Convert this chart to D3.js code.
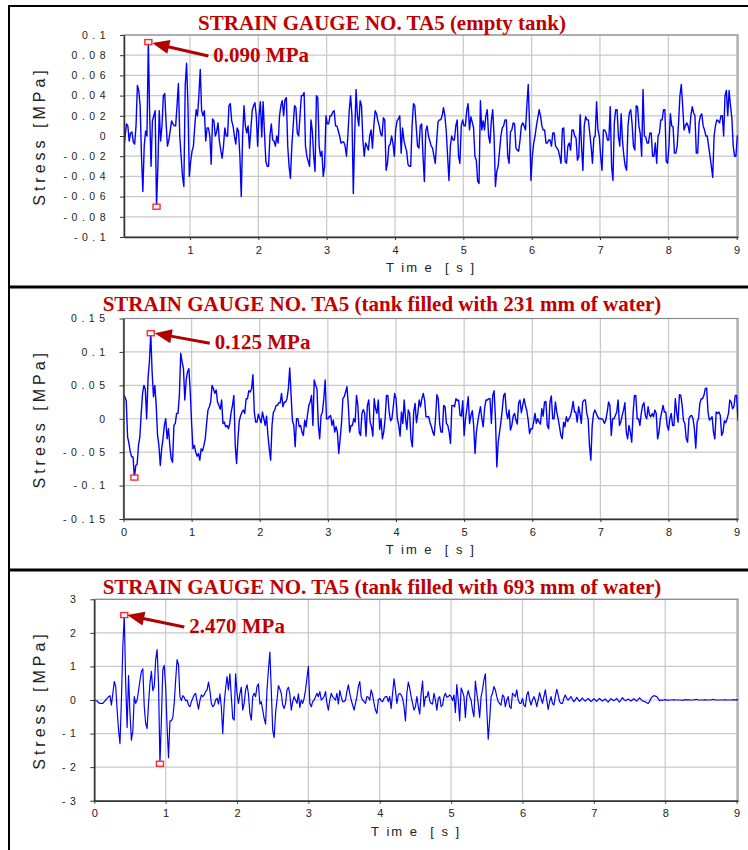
<!DOCTYPE html>
<html>
<head>
<meta charset="utf-8">
<script src="https://cdn.jsdelivr.net/npm/d3@7"></script>
<style>
body { margin: 0; background: #fff; }
svg { display: block; }
</style>
</head>
<body>
<svg id="chart" width="748" height="850"></svg>
<script>
// ---- data ----
var titles = [
  "STRAIN GAUGE NO. TA5 (empty tank)",
  "STRAIN GAUGE NO. TA5 (tank filled with 231 mm of water)",
  "STRAIN GAUGE NO. TA5 (tank filled with 693 mm of water)"
];
var peakLabels = ["0.090 MPa", "0.125 MPa", "2.470 MPa"];

// sampling step [s] and start time of each record
var dt = 0.02;
var start1 = 0.03, start2 = 0, start3 = 0;

// stress [MPa], empty tank
var stress1 = [
  -0.015, 0, 0.012, 0.01, -0.005, 0.003, 0.004, -0.006, -0.008, 0.01,
  0.05, 0.045, 0.03, -0.02, -0.055, -0.01, 0.005, 0, 0.093, 0.02,
  -0.03, 0.015, 0.02, 0.025, -0.07, -0.03, 0.025, -0.005, 0.01, 0.04,
  0.042, 0.013, -0.01, -0.004, 0.005, 0.015, 0.012, 0.01, 0.01, 0.03,
  0.052, 0, -0.02, -0.04, -0.05, 0.05, 0.072, 0.03, -0.04, -0.025,
  -0.015, -0.01, 0.01, 0.026, 0.02, 0.04, 0.066, 0.025, 0.02, 0.025,
  -0.005, 0.008, 0.008, 0, -0.028, 0.017, 0.015, 0, 0.004, 0.013,
  -0.005, -0.014, -0.022, -0.01, 0.008, 0, 0, 0.03, 0.032, 0.015,
  0.01, 0, -0.008, 0.008, 0.005, -0.02, -0.06, 0, 0.03, 0.01,
  0.003, 0.01, -0.012, 0.006, 0.025, 0.03, 0.033, 0.02, -0.01, 0.02,
  0.034, -0.001, 0.034, 0.003, -0.025, -0.03, -0.03, 0, 0.012, -0.004,
  -0.005, -0.01, 0, -0.007, 0.02, 0.03, 0.035, 0.02, 0.036, 0.038,
  -0.01, -0.03, -0.042, -0.01, 0.01, 0.03, 0.028, 0.003, 0, 0.02,
  0.04, 0.04, 0.043, -0.01, -0.02, -0.025, -0.03, 0.016, 0.005, -0.02,
  -0.035, 0.04, 0.038, -0.01, -0.02, -0.015, -0.04, -0.03, 0.02, 0.012,
  0.012, 0.02, 0.02, 0.024, 0.025, 0.01, 0.01, 0.005, 0, -0.007,
  -0.006, -0.006, -0.01, -0.02, 0, 0.025, 0.04, 0.02, -0.057, 0,
  0.046, 0.02, 0.01, 0.035, 0.03, -0.004, -0.02, -0.007, -0.01, -0.014,
  0, 0.006, -0.012, 0.01, 0.025, 0.022, 0.015, 0.01, 0.002, 0,
  0.018, 0.016, -0.034, -0.027, -0.01, -0.008, 0, -0.007, -0.02, 0.006,
  0.015, 0.017, 0.02, -0.017, 0.008, -0.004, -0.01, -0.015, -0.028, -0.03,
  -0.03, 0.01, 0.032, 0.03, 0.01, -0.01, -0.012, 0.01, 0.012, -0.02,
  -0.045, 0.005, 0.01, 0, -0.005, -0.01, -0.012, -0.02, -0.027, -0.005,
  0.014, 0.016, 0.016, 0.02, 0.028, 0.02, 0.005, -0.02, -0.044, -0.01,
  0, -0.004, -0.004, 0.01, 0.016, -0.02, -0.027, 0.01, 0.016, 0.01,
  0.01, 0.025, 0.032, 0.006, 0.019, 0.014, 0.008, -0.02, -0.024, -0.045,
  -0.047, 0.035, 0.006, 0.015, 0.006, 0.02, 0.026, 0, -0.007, 0.015,
  0.026, 0, -0.05, -0.035, -0.03, -0.015, 0, 0.008, 0.01, 0.016,
  0.016, -0.02, -0.027, 0.004, 0.006, 0.013, 0.012, -0.012, -0.014, -0.015,
  -0.004, 0.01, 0.013, 0.01, 0.006, 0.03, 0.051, 0.01, -0.044, -0.02,
  -0.007, 0, 0.01, 0.018, 0.026, 0.02, 0.01, 0.006, 0.006, -0.007,
  -0.007, -0.004, -0.004, -0.01, 0.003, 0.003, -0.01, -0.012, -0.014, -0.02,
  -0.027, 0.007, 0.008, -0.025, -0.027, -0.01, -0.007, -0.014, 0.006, 0.006,
  0, -0.002, -0.024, -0.02, 0.021, -0.01, -0.034, 0.01, 0.019, 0.016,
  0.016, 0.003, -0.01, -0.027, -0.002, 0, 0.034, 0.006, 0, -0.02,
  -0.034, 0.006, 0.006, 0.003, -0.004, -0.004, 0.029, -0.03, -0.044, 0.013,
  0.026, 0.026, 0, -0.01, 0.022, -0.005, -0.02, -0.03, -0.034, 0.01,
  0.023, 0.026, 0.012, -0.01, -0.014, 0.03, 0.029, 0.01, 0.002, -0.02,
  0.046, 0, -0.001, -0.007, -0.007, 0.003, 0.003, -0.02, -0.02, -0.007,
  -0.027, 0, 0.003, 0.016, 0.016, 0.026, 0.026, -0.025, -0.027, -0.01,
  0.022, 0.01, 0.009, -0.017, -0.017, -0.01, 0.013, 0.04, 0.051, 0.03,
  0.006, 0.01, 0.013, 0.01, 0.003, 0.02, 0.029, 0.023, 0.02, -0.017,
  -0.017, 0.013, 0.02, 0.022, 0.01, 0.006, 0, 0, -0.01, -0.02,
  -0.03, -0.041, 0, 0.01, 0.016, 0.015, 0.013, 0.02, 0.02, 0,
  0.04, 0.045, 0.02, 0.045, 0.03, 0.018, -0.01, -0.02, -0.02, 0,
  0
];

// stress [MPa], 231 mm of water
var stress2 = [
  0.035, 0.033, 0.027, -0.027, -0.037, -0.05, -0.057, -0.057, -0.088, -0.07,
  -0.068, -0.04, -0.027, 0.008, 0.038, 0.05, 0.044, 0, 0.06, 0.085,
  0.128, 0.07, 0.033, 0.05, 0.02, -0.025, -0.04, -0.07, -0.045, -0.03,
  -0.01, 0, -0.03, -0.015, -0.04, -0.06, -0.065, -0.01, -0.007, 0.008,
  0.008, 0.035, 0.098, 0.085, 0.075, 0.028, 0.058, 0.07, 0.075, 0.04,
  -0.007, -0.045, -0.04, -0.05, -0.056, -0.052, -0.062, -0.045, -0.048, -0.04,
  -0.03, -0.007, 0.013, 0.018, 0.025, 0.05, 0.045, 0.038, 0.043, 0.025,
  0.02, 0.014, 0.028, -0.007, -0.005, -0.012, -0.01, -0.015, -0.007, 0.01,
  0.02, 0.035, -0.04, -0.067, -0.03, -0.003, 0.005, 0.01, 0.013, 0.008,
  0.03, 0.03, 0.042, 0.04, 0.045, 0.066, 0.01, -0.005, -0.005, 0.007,
  0, -0.006, 0.01, 0, -0.01, 0.004, -0.025, -0.045, -0.062, -0.01,
  0.01, 0.013, 0.02, 0.02, 0.024, 0.024, 0.038, 0.018, 0.025, 0.025,
  0.03, 0.045, 0.076, 0.035, -0.003, -0.01, -0.042, 0, 0, -0.012,
  -0.01, -0.02, -0.025, -0.002, -0.012, 0.005, 0.02, 0.025, 0.035, -0.01,
  0.058, 0.05, 0.045, -0.01, -0.03, 0.005, 0.01, 0.03, 0.058, 0,
  0, 0.003, 0.005, -0.01, -0.002, -0.02, -0.012, -0.02, -0.052, -0.03,
  -0.007, 0.03, 0.033, 0.04, 0.048, 0.02, -0.02, -0.01, -0.01, 0,
  -0.005, 0.035, 0.02, -0.02, -0.025, 0.008, 0.014, 0.008, -0.026, 0.02,
  0.028, -0.005, -0.012, -0.026, 0.03, 0.015, 0.008, 0.028, -0.016, 0,
  -0.03, -0.02, 0, 0.035, 0.035, 0.01, -0.003, 0, 0.018, 0.038,
  0.03, 0, -0.01, -0.026, 0.01, -0.007, 0.028, 0, -0.016, 0.013,
  0.008, -0.03, -0.042, 0.01, 0.023, -0.006, 0.008, 0.028, 0.018, 0.03,
  0.038, 0.028, 0.003, 0.003, 0.003, -0.006, -0.012, -0.02, -0.025, 0,
  0.036, 0.03, -0.007, -0.02, -0.02, 0.02, 0.018, -0.007, -0.01, -0.02,
  -0.037, 0.02, 0.02, 0.018, 0.03, 0.027, 0.028, 0.005, 0.004, 0.027,
  -0.025, 0, 0.015, 0.033, -0.007, 0.005, 0.012, -0.01, -0.052, -0.02,
  -0.005, 0.008, 0.018, 0, -0.012, 0.015, 0.028, 0.028, 0.03, 0.03,
  -0.007, 0.035, 0.042, 0, -0.072, -0.035, -0.02, -0.005, 0.014, 0.035,
  0.038, 0.01, 0, 0.013, -0.017, -0.01, 0.004, 0.008, -0.002, -0.008,
  0.024, 0.028, 0.009, 0.02, 0.03, 0.02, 0.012, -0.002, -0.022, -0.015,
  -0.015, -0.005, 0.008, -0.007, 0, -0.005, -0.008, 0.015, 0.004, 0.025,
  0.026, -0.01, -0.015, 0.025, 0.034, 0, 0, 0.025, 0.01, 0,
  -0.012, -0.025, -0.03, -0.005, -0.012, 0.003, -0.004, 0, 0.004, 0.013,
  0.026, 0.01, 0.01, -0.005, 0.018, 0.008, -0.007, 0.025, 0.028, 0.028,
  0.008, 0, -0.04, -0.062, -0.01, 0.008, 0.013, 0.008, 0.003, 0,
  0, 0, -0.002, -0.007, -0.002, 0.01, 0.025, 0.02, -0.025, 0,
  0, 0.005, 0.01, 0.028, -0.01, -0.005, 0.005, 0.013, 0.024, -0.02,
  -0.03, -0.01, -0.02, -0.035, 0.008, 0.035, 0.035, 0, 0, -0.01,
  0.008, 0.02, 0.024, 0.005, 0, 0.018, 0.006, 0.003, 0.008, 0.003,
  0.013, 0.008, -0.03, -0.02, 0, 0.01, 0.02, 0.01, 0.01, -0.01,
  -0.017, 0, 0.008, -0.01, -0.01, 0.03, 0.01, -0.005, 0.036, 0.035,
  0.02, -0.003, -0.007, -0.03, -0.035, 0, 0.004, 0.005, 0, -0.015,
  -0.044, -0.005, 0, 0.023, 0.03, 0.03, 0.035, 0.045, 0.046, 0.01,
  -0.002, 0, 0.003, -0.02, -0.03, 0.01, 0.008, 0.01, 0.005, -0.025,
  -0.02, -0.003, -0.006, 0, 0.008, 0.028, 0.025, 0.015, 0.018, 0.035,
  0.035, -0.002, -0.005
];

// stress [MPa], 693 mm of water
var stress3 = [
  0, -0.02, -0.03, -0.08, -0.1, -0.1, -0.1, -0.05, 0, 0.05,
  0.1, 0.13, -0.15, 0.2, 0.55, 0.4, -0.3, -0.9, -1.3, 0,
  1.6, 2.53, 0.5, -0.82, 0.73, -0.4, -1.2, -0.92, 0.1, -0.1,
  0, 0.28, 0.58, 0.85, 0.93, -0.2, -0.7, -0.85, -0.1, 0.5,
  0.85, 0.28, 0.4, 1.2, 1.5, 0.5, -1.9, -0.6, 0.9, 1.03,
  0.4, -0.8, -1.72, -0.62, -0.62, -0.52, -0.1, 0.6, 1.2, 1.05,
  0.1, -0.02, 0.13, 0.08, -0.02, 0, -0.15, -0.2, -0.05, 0.05,
  0.15, 0.2, -0.05, -0.27, -0.02, 0.15, 0.1, 0.15, 0.25, 0.3,
  0.53, 0.28, -0.1, -0.2, -0.15, 0, 0.05, -0.12, 0.18, -0.2,
  -1, -0.12, 0.35, 0.7, 0.3, 0.78, 0.1, -0.55, -0.6, 0.78,
  0.2, -0.1, 0.18, 0.38, -0.3, -0.1, 0.3, 0.45, 0.18, -0.4,
  -0.6, 0.1, 0.2, 0.1, 0.4, 0.48, -0.12, -0.05, -0.3, -0.55,
  -0.72, 0.3, 0.9, 1.43, 0.3, -0.9, -1.12, -0.4, 0, 0.43,
  0.33, 0.2, -0.15, -0.25, -0.1, 0.3, 0.38, 0.18, -0.3, -0.05,
  0.1, 0, -0.1, 0.18, -0.22, 0, -0.1, 0.05, 0.3, 0.65,
  1, -0.1, -0.2, -0.05, 0, 0.1, 0.2, 0.1, 0.25, 0,
  0.05, 0.1, 0.25, -0.1, -0.3, 0, 0.2, 0.1, 0.05, 0,
  0.2, -0.12, 0.28, 0.1, -0.05, -0.05, 0, 0.25, 0.45, 0.2,
  0, -0.15, -0.3, -0.1, 0.1, 0.4, 0.55, 0.1, 0, -0.05,
  -0.1, 0.1, 0.08, 0, 0.3, 0.15, -0.1, -0.3, -0.4, 0,
  0.05, -0.02, -0.05, 0.05, 0.1, 0.1, -0.05, 0.1, -0.25, 0.2,
  0.63, 0.3, -0.1, 0.15, 0.2, 0.15, 0.05, -0.2, -0.62, 0.2,
  0.53, 0.35, 0.1, -0.1, -0.3, -0.2, 0.1, -0.2, -0.42, 0.2,
  0.56, -0.2, 0.1, 0.08, 0.25, -0.02, -0.1, -0.12, 0.2, 0,
  -0.3, 0.05, 0.1, -0.2, -0.15, 0.1, 0.2, 0.08, 0.1, 0.15,
  0.1, -0.02, 0.15, -0.37, 0.46, 0, -0.62, 0.36, 0.25, 0.1,
  -0.52, 0.1, 0.28, 0.1, 0, -0.3, -0.5, 0.56, 0.2, -0.1,
  -0.52, 0.1, 0.3, 0.6, 0.78, -0.3, -1.17, -0.6, 0.1, 0.2,
  0.4, 0.3, 0.1, -0.05, -0.1, -0.15, 0.15, 0.1, -0.2, 0,
  0.1, -0.2, -0.25, 0.2, 0.15, 0.1, 0.3, 0, -0.1, -0.1,
  0.05, -0.15, -0.2, 0.15, 0.25, 0, -0.15, 0, 0.1, 0,
  -0.2, 0, 0.22, 0.05, -0.1, 0.1, 0.3, 0, -0.28, -0.05,
  0.1, -0.1, -0.15, 0.1, 0.32, 0.15, -0.05, -0.1, -0.1, 0.05,
  0.15, 0.05, 0, 0.05, 0.1, 0.02, -0.05, 0, 0.08, 0.02,
  -0.04, 0.01, 0.06, 0, -0.03, 0.01, 0.05, 0, -0.05, -0.01,
  0.04, 0, -0.04, 0.01, 0.05, 0, -0.03, 0, 0.03, -0.02,
  -0.06, -0.01, 0.04, 0.01, -0.02, 0.01, 0.05, -0.01, -0.06, 0,
  0.07, 0.02, -0.02, 0, 0.03, 0, -0.03, 0, 0.04, 0,
  -0.03, 0.01, 0.06, 0.02, -0.02, -0.04, -0.05, -0.08, -0.1, -0.05,
  0.05, 0.1, 0.13, 0.12, 0.1, 0.05, -0.02, 0, -0.01, 0,
  0.01, 0, -0.01, 0, 0, 0, 0.01, 0, 0, 0,
  0, 0, -0.01, 0, 0.01, 0, 0.01, 0, 0, 0,
  0, 0.01, 0.02, 0, 0, 0, 0, 0, 0.01, 0,
  0, 0, 0, 0.01, 0.02, 0, 0, 0, 0, 0,
  0, 0, 0.01, 0, 0, 0, 0, 0, 0.01, 0,
  0.01, 0, 0.01
];

// tick values
var xTicks1 = [1, 2, 3, 4, 5, 6, 7, 8, 9];
var xTicks23 = [0, 1, 2, 3, 4, 5, 6, 7, 8, 9];
var yTicks1 = [-0.1, -0.08, -0.06, -0.04, -0.02, 0, 0.02, 0.04, 0.06, 0.08, 0.1];
var yTicks2 = [-0.15, -0.1, -0.05, 0, 0.05, 0.1, 0.15];
var yTicks3 = [-3, -2, -1, 0, 1, 2, 3];

// ---- layout of the three panels ----
var panels = [
  { title: titles[0], values: stress1, t0: start1, label: peakLabels[0],
    xDomain: [0.034, 9.02], yDomain: [-0.1, 0.1], xTicks: xTicks1, yTicks: yTicks1,
    left: 124, right: 738, top: 35, bottom: 237, titleY: 30, lineW: 1.4,
    tip: [4, 1], tail: [60, 14], text: [65, 20] },
  { title: titles[1], values: stress2, t0: start2, label: peakLabels[1],
    xDomain: [0, 9.02], yDomain: [-0.15, 0.15], xTicks: xTicks23, yTicks: yTicks2,
    left: 123.5, right: 738, top: 318.5, bottom: 519, titleY: 311, lineW: 1.4,
    tip: [4, 0], tail: [59, 10], text: [64, 16] },
  { title: titles[2], values: stress3, t0: start3, label: peakLabels[2],
    xDomain: [0, 9.02], yDomain: [-3, 3], xTicks: xTicks23, yTicks: yTicks3,
    left: 94.3, right: 738, top: 599.3, bottom: 800.7, titleY: 594, lineW: 1.2,
    tip: [3, 0], tail: [60, 12], text: [65, 18] }
];

var red = "#c00000";
var sans = "'Liberation Sans', Arial, sans-serif";
var serif = "'Liberation Serif', 'Times New Roman', serif";

var svg = d3.select("#chart");
svg.append("rect").attr("width", 748).attr("height", 850).attr("fill", "#fff");

var fmt = function(d) { return String(+d.toFixed(2)); };

panels.forEach(function(p, k) {
  var x = d3.scaleLinear().domain(p.xDomain).range([p.left, p.right]);
  var y = d3.scaleLinear().domain(p.yDomain).range([p.bottom, p.top]);
  var g = svg.append("g");

  // grid
  g.selectAll(".vgrid").data(p.xTicks).enter().append("line")
    .attr("x1", function(d) { return x(d); }).attr("x2", function(d) { return x(d); })
    .attr("y1", p.top).attr("y2", p.bottom)
    .attr("stroke", "#c8c8c8").attr("stroke-width", 1.2);
  g.selectAll(".hgrid").data(p.yTicks).enter().append("line")
    .attr("x1", p.left).attr("x2", p.right)
    .attr("y1", function(d) { return y(d); }).attr("y2", function(d) { return y(d); })
    .attr("stroke", "#c8c8c8").attr("stroke-width", 1.2);

  g.append("rect")
    .attr("x", p.left).attr("y", p.top)
    .attr("width", p.right - p.left).attr("height", p.bottom - p.top)
    .attr("fill", "none").attr("stroke", "#8a8a8a").attr("stroke-width", 1.2);

  // signal
  g.append("clipPath").attr("id", "clip" + k)
    .append("rect")
    .attr("x", p.left).attr("y", p.top)
    .attr("width", p.right - p.left).attr("height", p.bottom - p.top);

  var line = d3.line()
    .x(function(v, i) { return x(p.t0 + i * dt); })
    .y(function(v) { return y(v); });

  g.append("path")
    .datum(p.values)
    .attr("clip-path", "url(#clip" + k + ")")
    .attr("d", line)
    .attr("fill", "none")
    .attr("stroke", "#0000ff")
    .attr("stroke-width", p.lineW)
    .attr("stroke-linejoin", "round");

  // axes
  var ya = g.append("g")
    .attr("transform", "translate(" + p.left + ",0)")
    .call(d3.axisLeft(y).tickValues(p.yTicks).tickFormat(fmt)
      .tickSize(4).tickSizeOuter(0).tickPadding(10));
  ya.selectAll("text")
    .attr("font-family", sans).attr("font-size", 10.5)
    .attr("letter-spacing", 4.5).attr("fill", "#222");

  var xa = g.append("g")
    .attr("transform", "translate(0," + p.bottom + ")")
    .call(d3.axisBottom(x).tickValues(p.xTicks).tickFormat(d3.format("d"))
      .tickSize(3).tickSizeOuter(0).tickPadding(6));
  xa.selectAll("text")
    .attr("font-family", sans).attr("font-size", 11).attr("fill", "#222");

  [ya, xa].forEach(function(a) {
    a.select(".domain").attr("stroke", "#333").attr("stroke-width", 1.5);
    a.selectAll(".tick line").attr("stroke", "#333");
  });

  // axis titles
  g.append("text")
    .attr("transform", "translate(39," + ((p.top + p.bottom) / 2) + ") rotate(-90)")
    .attr("text-anchor", "middle").attr("dy", "0.36em")
    .attr("font-family", sans).attr("font-size", 16)
    .attr("letter-spacing", 4).attr("fill", "#222")
    .text("Stress [MPa]");

  g.append("text")
    .attr("x", (p.left + p.right) / 2).attr("y", p.bottom + 35)
    .attr("text-anchor", "middle")
    .attr("font-family", sans).attr("font-size", 13)
    .attr("letter-spacing", 2).attr("fill", "#222")
    .style("white-space", "pre")
    .text("T im e  [ s ]");

  // title
  g.append("text")
    .attr("x", 382).attr("y", p.titleY)
    .attr("text-anchor", "middle")
    .attr("font-family", serif).attr("font-weight", "bold").attr("font-size", 21)
    .attr("fill", red)
    .text(p.title);

  // peak and trough markers
  var iMax = d3.maxIndex(p.values), iMin = d3.minIndex(p.values);
  [iMax, iMin].forEach(function(i) {
    g.append("rect")
      .attr("x", x(p.t0 + i * dt) - 3.5).attr("y", y(p.values[i]) - 2.5)
      .attr("width", 7).attr("height", 5)
      .attr("fill", "#fff").attr("stroke", "#ff2a2a").attr("stroke-width", 1.4);
  });

  // arrow to peak
  var px = x(p.t0 + iMax * dt), py = y(p.values[iMax]);
  var tip = [px + p.tip[0], py + p.tip[1]];
  var tail = [px + p.tail[0], py + p.tail[1]];
  var dx = tip[0] - tail[0], dy = tip[1] - tail[1];
  var len = Math.sqrt(dx * dx + dy * dy);
  var ux = dx / len, uy = dy / len;
  var bx = tip[0] - ux * 17, by = tip[1] - uy * 17;
  g.append("line")
    .attr("x1", tail[0]).attr("y1", tail[1])
    .attr("x2", bx + ux * 2).attr("y2", by + uy * 2)
    .attr("stroke", "#b00000").attr("stroke-width", 3);
  g.append("polygon")
    .attr("points", [
      tip,
      [bx - uy * 7, by + ux * 7],
      [bx + uy * 7, by - ux * 7]
    ].map(function(q) { return q.join(","); }).join(" "))
    .attr("fill", "#b00000");

  g.append("text")
    .attr("x", px + p.text[0]).attr("y", py + p.text[1])
    .attr("font-family", serif).attr("font-weight", "bold").attr("font-size", 21)
    .attr("fill", red)
    .text(p.label);
});

// panel frames
var frameLines = [6, 287, 570];
svg.selectAll(".frame").data(frameLines).enter().append("line")
  .attr("x1", 8).attr("x2", 748)
  .attr("y1", function(d) { return d; }).attr("y2", function(d) { return d; })
  .attr("stroke", "#000").attr("stroke-width", function(d, i) { return i ? 3 : 2; });
svg.append("line")
  .attr("x1", 9).attr("x2", 9).attr("y1", 5).attr("y2", 850)
  .attr("stroke", "#000").attr("stroke-width", 2);
</script>
</body>
</html>
